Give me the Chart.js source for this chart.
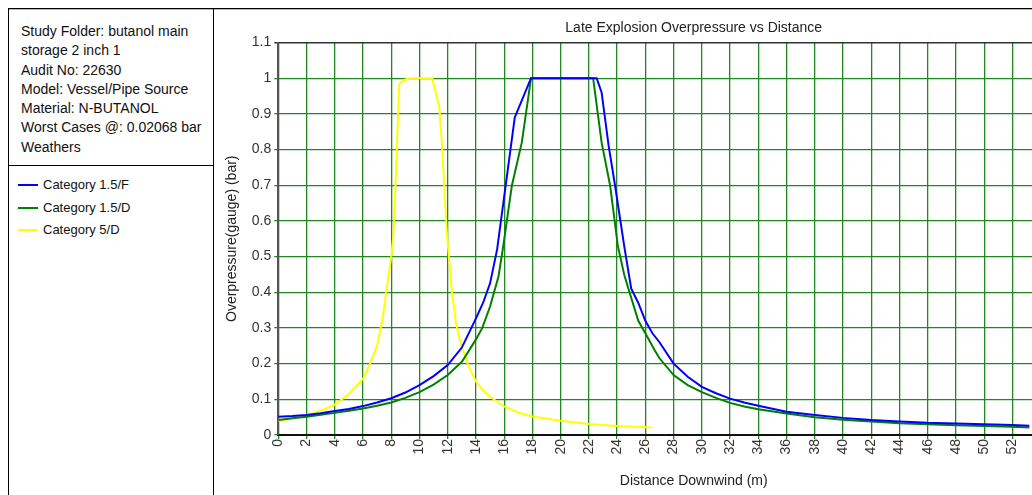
<!DOCTYPE html>
<html>
<head>
<meta charset="utf-8">
<script src="https://cdn.jsdelivr.net/npm/chart.js@4"></script>
<style>
  body { margin: 0; width: 1032px; height: 495px; overflow: hidden; position: relative; background: #fff;
         font-family: "Liberation Sans", Arial, sans-serif; color: #111; }
  #topline { position: absolute; left: 8px; top: 8px; width: 1100px; height: 1px; background: #000; }
  #topline2 { position: absolute; left: 9px; top: 9px; width: 1100px; height: 1px; background: #bbb; }
  #panel { position: absolute; left: 8px; top: 8px; width: 204px; height: 600px;
           border-left: 1px solid #000; border-right: 1px solid #000; }
  #info { position: absolute; left: 12px; top: 14px; font-size: 14px; line-height: 19.25px; white-space: nowrap; }
  #sep { position: absolute; left: 0; top: 157px; width: 204px; height: 1px; background: #000; }
  #legend { position: absolute; left: 0; top: 166px; font-size: 13px; }
  .item { position: relative; height: 22.5px; line-height: 22.5px; white-space: nowrap; }
  .swatch { position: absolute; left: 9px; top: 10px; width: 20px; height: 2px; }
  .label { position: absolute; left: 34px; top: 0; }
  #wrap { position: absolute; left: 214px; top: 0; }
</style>
</head>
<body>
<div id="topline"></div>
<div id="topline2"></div>
<div id="panel">
  <div id="info"></div>
  <div id="sep"></div>
  <div id="legend"></div>
</div>
<div id="wrap"><canvas id="chart" width="900" height="495"></canvas></div>
<script>
// study details shown in the side panel
const infoLines = [
  "Study Folder: butanol main",
  "storage 2 inch 1",
  "Audit No: 22630",
  "Model: Vessel/Pipe Source",
  "Material: N-BUTANOL",
  "Worst Cases @: 0.02068 bar",
  "Weathers"
];

const seriesNames = ["Category 1.5/F", "Category 1.5/D", "Category 5/D"];
const seriesColors = ["#0000ff", "#008000", "#ffff00"];

// Category 1.5/F
const distF = [0, 1, 2, 3, 4, 5, 6, 7, 8, 9, 10, 11, 12, 13, 14, 14.5, 15, 15.5, 16.75, 17.9, 22.55, 22.9, 23.4, 23.85, 24.5, 25, 25.5, 26, 26.5, 27, 28, 29, 30, 31, 32, 33, 34, 36, 38, 40, 42, 44, 46, 48, 50, 52, 53.2];
const presF = [0.051, 0.053, 0.056, 0.061, 0.067, 0.073, 0.081, 0.091, 0.103, 0.119, 0.14, 0.165, 0.196, 0.245, 0.327, 0.37, 0.425, 0.52, 0.89, 1.0, 1.0, 0.96, 0.81, 0.70, 0.53, 0.41, 0.37, 0.32, 0.285, 0.26, 0.2, 0.163, 0.135, 0.117, 0.102, 0.091, 0.082, 0.065, 0.056, 0.048, 0.042, 0.038, 0.034, 0.032, 0.03, 0.028, 0.026];

// Category 1.5/D
const distD = [0, 1, 2, 3, 4, 5, 6, 7, 8, 9, 10, 11, 12, 13, 13.45, 14, 14.45, 15, 15.6, 15.9, 16.55, 17.25, 17.9, 22.3, 22.9, 23.5, 24.05, 24.5, 24.8, 25.5, 26, 26.65, 27, 28, 29, 30, 31, 32, 33, 34, 36, 38, 40, 42, 44, 46, 48, 50, 52, 53.2];
const presD = [0.042, 0.047, 0.051, 0.057, 0.062, 0.068, 0.074, 0.082, 0.091, 0.104, 0.12, 0.141, 0.168, 0.205, 0.233, 0.268, 0.3, 0.36, 0.445, 0.52, 0.70, 0.82, 1.0, 1.0, 0.82, 0.70, 0.53, 0.45, 0.41, 0.32, 0.285, 0.238, 0.215, 0.168, 0.14, 0.12, 0.104, 0.09, 0.08, 0.072, 0.06, 0.05, 0.043, 0.038, 0.033, 0.03, 0.027, 0.025, 0.023, 0.021];

// Category 5/D
const dist5 = [0, 1, 2, 3, 4, 5, 6, 6.5, 7, 7.4, 7.75, 8, 8.15, 8.3, 8.45, 8.57, 8.9, 9.3, 10.9, 11.4, 11.6, 11.8, 11.97, 12.3, 12.6, 12.9, 13.5, 14, 14.5, 15, 16, 17, 18, 20, 22, 24, 26.5];
const pres5 = [0.04, 0.047, 0.056, 0.068, 0.085, 0.115, 0.157, 0.2, 0.25, 0.33, 0.43, 0.5, 0.56, 0.70, 0.86, 0.985, 0.995, 1.0, 1.0, 0.92, 0.81, 0.66, 0.55, 0.40, 0.31, 0.26, 0.19, 0.15, 0.125, 0.107, 0.08, 0.063, 0.052, 0.04, 0.031, 0.025, 0.021];

const xMin = 0, xMax = 58.85, xStep = 2;
const yMin = 0, yMax = 1.1, yStep = 0.1;

document.getElementById("info").innerHTML = infoLines.join("<br>");
document.getElementById("legend").innerHTML = seriesNames.map((n, i) =>
  '<div class="item"><div class="swatch" style="background:' + seriesColors[i] + '"></div><span class="label">' + n + '</span></div>'
).join("");

function pts(xs, ys) { return xs.map((x, i) => ({ x: x, y: ys[i] })); }
const allDist = [distF, distD, dist5];
const allPres = [presF, presD, pres5];

Chart.defaults.font.family = '"Liberation Sans", Arial, sans-serif';
Chart.defaults.color = "#333";

new Chart(document.getElementById("chart"), {
  type: "line",
  data: {
    datasets: seriesNames.map((n, i) => ({
      label: n,
      data: pts(allDist[i], allPres[i]),
      borderColor: seriesColors[i],
      borderWidth: 2,
      pointRadius: 0,
      tension: 0,
      fill: false
    }))
  },
  options: {
    responsive: false,
    animation: false,
    devicePixelRatio: 1,
    layout: { padding: 0 },
    plugins: {
      legend: { display: false },
      tooltip: { enabled: false },
      title: {
        display: true,
        fullSize: false,
        text: "Late Explosion Overpressure vs Distance",
        color: "#222",
        font: { size: 14, weight: "normal" },
        padding: { top: 19.6, bottom: 6.1 }
      }
    },
    scales: {
      x: {
        type: "linear",
        min: xMin, max: xMax,
        afterFit: (axis) => { axis.height = 60; },
        border: { color: "#111", width: 2 },
        grid: { color: "#1e8a1e", lineWidth: 1.3, tickLength: 4 },
        ticks: { stepSize: xStep, includeBounds: false, autoSkip: false, minRotation: 90, maxRotation: 90,
                 padding: 0, color: "#333", font: { size: 14 } },
        title: { display: true, text: "Distance Downwind (m)", color: "#222", font: { size: 14 },
                 padding: { top: 0, bottom: 5.6 } }
      },
      y: {
        min: yMin, max: yMax,
        afterFit: (axis) => { axis.width = 64.3; },
        border: { color: "#555", width: 2 },
        grid: {
          color: (c) => (c.tick && Math.abs(c.tick.value - yMax) < 1e-6) ? "#333" : "#1e8a1e",
          lineWidth: (c) => (c.tick && Math.abs(c.tick.value - yMax) < 1e-6) ? 1.5 : 1.3,
          tickLength: 4
        },
        ticks: { stepSize: yStep, padding: 3, color: "#333", font: { size: 14 },
                 callback: (v) => String(+v.toFixed(1)) },
        title: { display: true, text: "Overpressure(gauge) (bar)", color: "#222", font: { size: 14 },
                 padding: { top: 9.6, bottom: 0 } }
      }
    }
  }
});
</script>
</body>
</html>
